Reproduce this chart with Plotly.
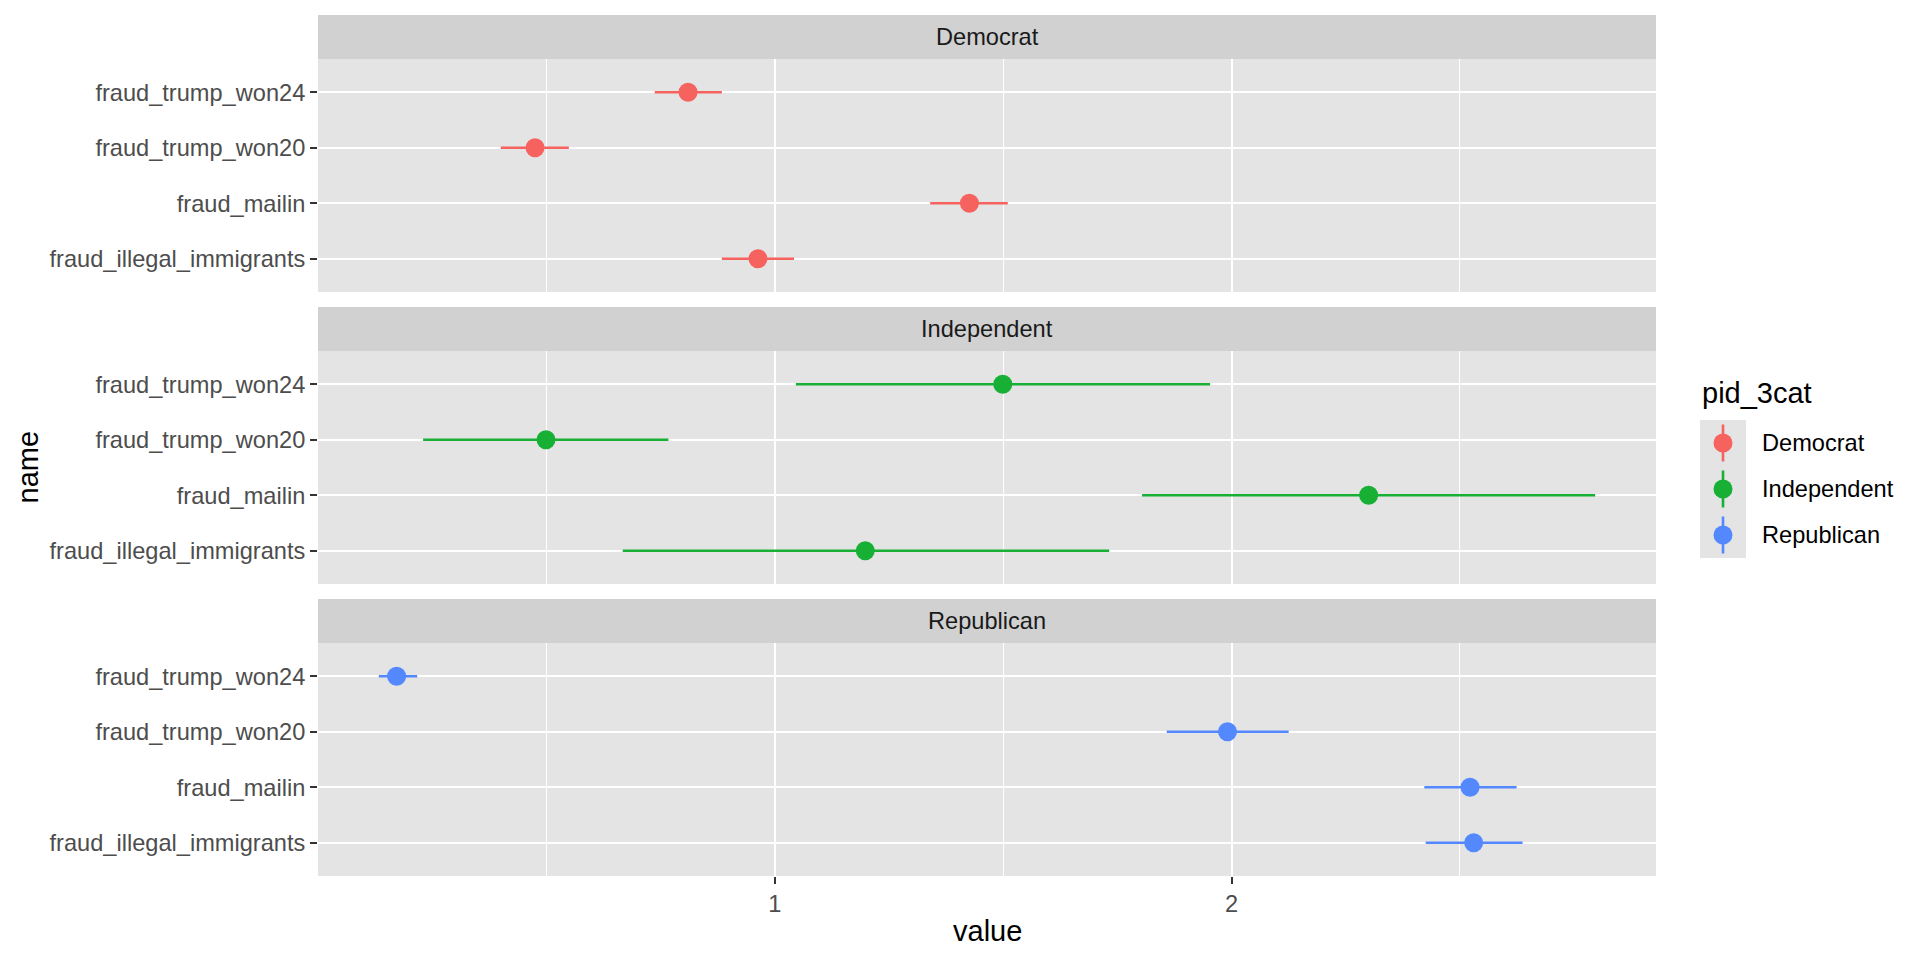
import plotly.graph_objects as go

# ---------------- data ----------------
parties = ["Democrat", "Independent", "Republican"]
colors = ["#F6635F", "#17B035", "#5388FF"]
names = ["fraud_trump_won24", "fraud_trump_won20", "fraud_mailin", "fraud_illegal_immigrants"]
category_order = ["fraud_illegal_immigrants", "fraud_mailin", "fraud_trump_won20", "fraud_trump_won24"]

dem_est = [0.81, 0.475, 1.426, 0.963]
dem_lo = [0.737, 0.400, 1.340, 0.884]
dem_hi = [0.884, 0.549, 1.510, 1.042]

ind_est = [1.499, 0.499, 2.300, 1.198]
ind_lo = [1.046, 0.230, 1.804, 0.667]
ind_hi = [1.953, 0.767, 2.796, 1.732]

rep_est = [0.172, 1.991, 2.522, 2.530]
rep_lo = [0.133, 1.858, 2.422, 2.425]
rep_hi = [0.217, 2.125, 2.624, 2.637]

x_ticks = [1, 2]
x_minor = [0.5, 1.5, 2.5]

# ---------------- layout geometry ----------------
W, H = 1920, 960
FONT = "Liberation Sans, Arial, Helvetica, sans-serif"
PANEL_BG = "#E4E4E4"
STRIP_BG = "#D1D1D1"
TICK_SIZE = 23.6

px_left, px_right = 318, 1656
panels_px = [(59, 292), (351, 584), (643, 876)]  # plot area top/bottom in px
strip_h = 44

def fx(p):
    return p / W

def fy(p):
    return 1 - p / H

series = [
    (dem_est, dem_lo, dem_hi),
    (ind_est, ind_lo, ind_hi),
    (rep_est, rep_lo, rep_hi),
]

all_lo = dem_lo + ind_lo + rep_lo
all_hi = dem_hi + ind_hi + rep_hi
span = max(all_hi) - min(all_lo)
xrange = [min(all_lo) - 0.05 * span, max(all_hi) + 0.05 * span]

fig = go.Figure()

for i, (party, col, (est, lo, hi)) in enumerate(zip(parties, colors, series)):
    ax = "" if i == 0 else str(i + 1)
    fig.add_trace(go.Scatter(
        x=est, y=names, mode="markers",
        xaxis="x" + ax, yaxis="y" + ax,
        marker=dict(size=19, color=col, line=dict(width=0)),
        error_x=dict(type="data", symmetric=False,
                     array=[h - e for h, e in zip(hi, est)],
                     arrayminus=[e - l for e, l in zip(est, lo)],
                     width=0, thickness=2.6, color=col),
        name=party, showlegend=False, hoverinfo="x+y",
    ))

layout = dict(
    width=W, height=H,
    margin=dict(l=0, r=0, t=0, b=0),
    paper_bgcolor="white",
    plot_bgcolor=PANEL_BG,
    font=dict(family=FONT, size=TICK_SIZE, color="#4D4D4D"),
    showlegend=False,
)

shapes = []
annotations = []

for i, (top, bot) in enumerate(panels_px):
    ax = "" if i == 0 else str(i + 1)
    last = i == len(panels_px) - 1
    layout["xaxis" + ax] = dict(
        domain=[fx(px_left), fx(px_right)],
        anchor="y" + ax,
        range=xrange,
        tickmode="array", tickvals=x_ticks, ticktext=[str(t) for t in x_ticks],
        showticklabels=last,
        ticks="outside" if last else "",
        ticklen=7, tickwidth=2.4, tickcolor="#333333",
        tickfont=dict(family=FONT, size=TICK_SIZE, color="#4D4D4D"),
        showgrid=True, gridcolor="white", gridwidth=2.4,
        minor=dict(tickmode="array", tickvals=x_minor, showgrid=True,
                   gridcolor="white", gridwidth=1.2, ticks=""),
        zeroline=False, showline=False, fixedrange=True,
    )
    if i > 0:
        layout["xaxis" + ax]["matches"] = "x"
    layout["yaxis" + ax] = dict(
        domain=[fy(bot), fy(top)],
        anchor="x" + ax,
        type="category",
        categoryorder="array", categoryarray=category_order,
        range=[-0.6, len(category_order) - 0.4],
        ticks="outside", ticklen=7, tickwidth=2.4, tickcolor="#333333",
        tickfont=dict(family=FONT, size=TICK_SIZE, color="#4D4D4D"),
        showgrid=True, gridcolor="white", gridwidth=2.4,
        zeroline=False, showline=False, fixedrange=True,
    )
    # strip
    shapes.append(dict(type="rect", xref="paper", yref="paper",
                       x0=fx(px_left), x1=fx(px_right),
                       y0=fy(top), y1=fy(top - strip_h),
                       fillcolor=STRIP_BG, line=dict(width=0), layer="below"))
    annotations.append(dict(text=parties[i], xref="paper", yref="paper",
                            x=fx((px_left + px_right) / 2), y=fy(top - strip_h / 2),
                            showarrow=False, xanchor="center", yanchor="middle",
                            font=dict(family=FONT, size=TICK_SIZE, color="#1A1A1A")))

# axis titles
annotations.append(dict(text="value", xref="paper", yref="paper",
                        x=fx((px_left + px_right) / 2), y=fy(931),
                        showarrow=False, xanchor="center", yanchor="middle",
                        font=dict(family=FONT, size=29, color="black")))
annotations.append(dict(text="name", xref="paper", yref="paper",
                        x=fx(27), y=fy(467.5), textangle=-90,
                        showarrow=False, xanchor="center", yanchor="middle",
                        font=dict(family=FONT, size=29, color="black")))

# legend (drawn manually to show pointrange glyphs)
leg_x0, leg_x1 = 1700, 1746
leg_top = 420
key_h = 46
annotations.append(dict(text="pid_3cat", xref="paper", yref="paper",
                        x=fx(leg_x0), y=fy(393), showarrow=False,
                        xanchor="left", yanchor="middle",
                        font=dict(family=FONT, size=29, color="black")))
shapes.append(dict(type="rect", xref="paper", yref="paper",
                   x0=fx(leg_x0), x1=fx(leg_x1),
                   y0=fy(leg_top + key_h * len(parties)), y1=fy(leg_top),
                   fillcolor=PANEL_BG, line=dict(width=0)))
cx = (leg_x0 + leg_x1) / 2
for k, (party, col) in enumerate(zip(parties, colors)):
    cy = leg_top + key_h * (k + 0.5)
    shapes.append(dict(type="line", xref="paper", yref="paper",
                       x0=fx(cx), x1=fx(cx), y0=fy(cy - 18.5), y1=fy(cy + 18.5),
                       line=dict(color=col, width=2.6)))
    shapes.append(dict(type="circle", xref="paper", yref="paper",
                       xsizemode="pixel", ysizemode="pixel",
                       xanchor=fx(cx), yanchor=fy(cy),
                       x0=-9.5, x1=9.5, y0=-9.5, y1=9.5,
                       fillcolor=col, line=dict(width=0)))
    annotations.append(dict(text=party, xref="paper", yref="paper",
                            x=fx(1760), y=fy(cy), showarrow=False,
                            xanchor="left", yanchor="middle",
                            font=dict(family=FONT, size=TICK_SIZE, color="black")))

layout["shapes"] = shapes
layout["annotations"] = annotations
fig.update_layout(**layout)

fig.write_html("out.html",
               config={"displayModeBar": False},
               post_script="document.body.style.margin='0';document.body.style.overflow='hidden';")
